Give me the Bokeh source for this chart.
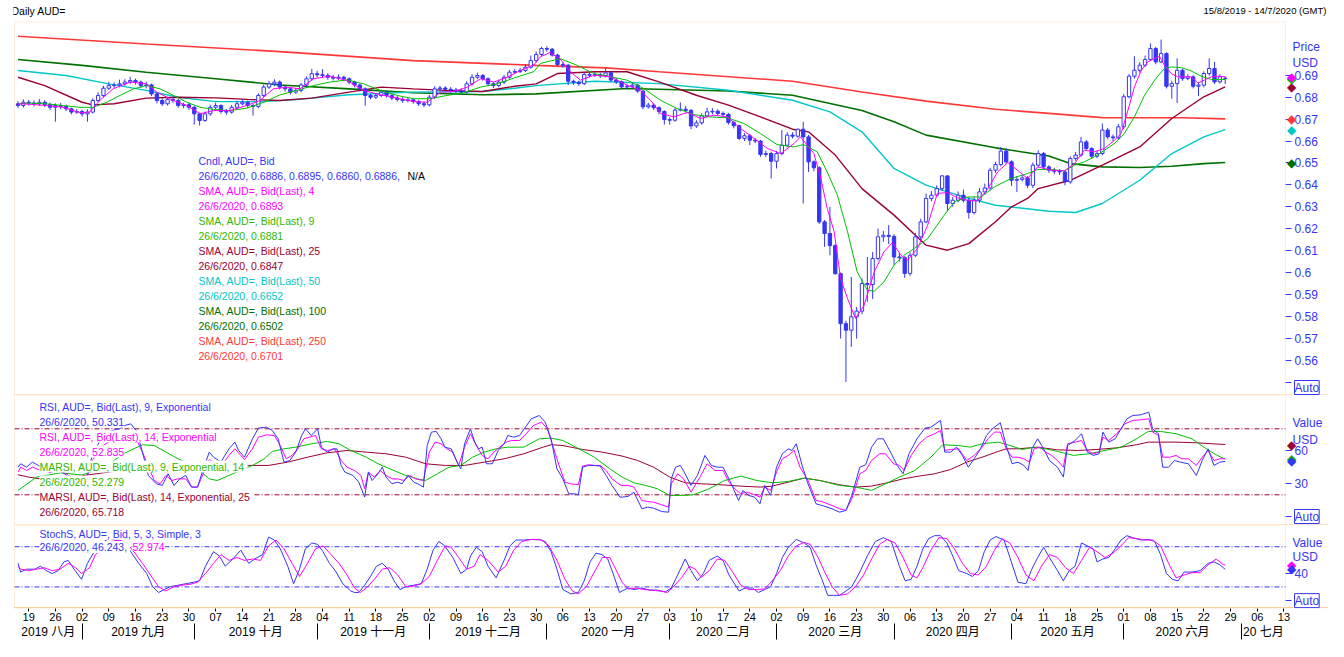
import numpy as np
import pandas as pd
from bokeh.plotting import figure
from bokeh.models import Range1d, LinearAxis, FixedTicker, Label, Span, ColumnDataSource, BoxAnnotation
from bokeh.layouts import column
from bokeh.embed import file_html
from bokeh.resources import INLINE

# ---------------------------------------------------------------- calendar
trading_days = pd.bdate_range("2019-08-15", "2020-07-14")
day_tick_labels = ["19", "26", "02", "09", "16", "23", "30", "07", "14", "21", "28",
                   "04", "11", "18", "25", "02", "09", "16", "23", "30", "06", "13",
                   "20", "27", "03", "10", "17", "24", "02", "09", "16", "23", "30",
                   "06", "13", "20", "27", "04", "11", "18", "25", "01", "08", "15",
                   "22", "29", "06", "13"]
month_labels = ["2019 八月", "2019 九月", "2019 十月", "2019 十一月", "2019 十二月",
                "2020 一月", "2020 二月", "2020 三月", "2020 四月", "2020 五月",
                "2020 六月", "20 七月"]

# ---------------------------------------------------------------- candles (AUD=, bid)
close = [
    0.6762, 0.6777, 0.6773, 0.6770, 0.6777, 0.6767, 0.6754, 0.6762, 0.6758, 0.6747,
    0.6732, 0.6735, 0.6724, 0.6732, 0.6785, 0.6808, 0.6841, 0.6853, 0.6856, 0.6861,
    0.6869, 0.6876, 0.6869, 0.6853, 0.6856, 0.6815, 0.6785, 0.6770, 0.6790, 0.6785,
    0.6762, 0.6766, 0.6754, 0.6724, 0.6694, 0.6724, 0.6754, 0.6762, 0.6735, 0.6732,
    0.6754, 0.6770, 0.6777, 0.6762, 0.6758, 0.6808, 0.6846, 0.6861, 0.6869, 0.6846,
    0.6838, 0.6823, 0.6831, 0.6856, 0.6884, 0.6907, 0.6902, 0.6899, 0.6891, 0.6887,
    0.6891, 0.6884, 0.6869, 0.6856, 0.6838, 0.6808, 0.6800, 0.6808, 0.6823, 0.6808,
    0.6796, 0.6790, 0.6785, 0.6788, 0.6780, 0.6770, 0.6765, 0.6800, 0.6838, 0.6842,
    0.6836, 0.6833, 0.6828, 0.6823, 0.6861, 0.6891, 0.6899, 0.6884, 0.6861, 0.6853,
    0.6869, 0.6891, 0.6914, 0.6917, 0.6922, 0.6937, 0.6967, 0.6995, 0.7022, 0.7019,
    0.6992, 0.6949, 0.6946, 0.6873, 0.6868, 0.6862, 0.6904, 0.6900, 0.6903, 0.6898,
    0.6911, 0.6878, 0.6870, 0.6847, 0.6850, 0.6855, 0.6828, 0.6756, 0.6764, 0.6752,
    0.6735, 0.6698, 0.6695, 0.6741, 0.6745, 0.6740, 0.6669, 0.6683, 0.6715, 0.6733,
    0.6736, 0.6726, 0.6721, 0.6685, 0.6670, 0.6612, 0.6624, 0.6604, 0.6600, 0.6539,
    0.6543, 0.6508, 0.6543, 0.6581, 0.6627, 0.6622, 0.6654, 0.6619, 0.6505, 0.6478,
    0.6231, 0.6178, 0.6123, 0.5995, 0.5767, 0.5737, 0.5798, 0.5824, 0.5950, 0.5945,
    0.6064, 0.6163, 0.6170, 0.6165, 0.6071, 0.6068, 0.5996, 0.6079, 0.6163, 0.6231,
    0.6338, 0.6353, 0.6383, 0.6441, 0.6315, 0.6330, 0.6353, 0.6330, 0.6274, 0.6330,
    0.6368, 0.6386, 0.6467, 0.6493, 0.6554, 0.6505, 0.6421, 0.6425, 0.6432, 0.6398,
    0.6490, 0.6543, 0.6482, 0.6467, 0.6462, 0.6459, 0.6414, 0.6520, 0.6536, 0.6596,
    0.6566, 0.6531, 0.6543, 0.6650, 0.6619, 0.6615, 0.6665, 0.6802, 0.6896, 0.6923,
    0.6946, 0.6972, 0.7022, 0.6961, 0.6999, 0.6850, 0.6862, 0.6923, 0.6885, 0.6893,
    0.6850, 0.6855, 0.6908, 0.6931, 0.6870, 0.6893, 0.6886]

open_ = [
    0.6770,
    0.6762, 0.6777, 0.6773, 0.6770, 0.6777, 0.6767, 0.6754, 0.6762, 0.6758, 0.6747,
    0.6732, 0.6735, 0.6724, 0.6732, 0.6785, 0.6808, 0.6841, 0.6853, 0.6856, 0.6861,
    0.6869, 0.6876, 0.6869, 0.6853, 0.6856, 0.6815, 0.6785, 0.6770, 0.6790, 0.6785,
    0.6762, 0.6766, 0.6754, 0.6724, 0.6694, 0.6724, 0.6754, 0.6762, 0.6735, 0.6732,
    0.6754, 0.6770, 0.6777, 0.6762, 0.6758, 0.6808, 0.6846, 0.6861, 0.6869, 0.6846,
    0.6838, 0.6823, 0.6831, 0.6856, 0.6884, 0.6907, 0.6902, 0.6899, 0.6891, 0.6887,
    0.6891, 0.6884, 0.6869, 0.6856, 0.6838, 0.6808, 0.6800, 0.6808, 0.6823, 0.6808,
    0.6796, 0.6790, 0.6785, 0.6788, 0.6780, 0.6770, 0.6765, 0.6800, 0.6838, 0.6842,
    0.6836, 0.6833, 0.6828, 0.6823, 0.6861, 0.6891, 0.6899, 0.6884, 0.6861, 0.6853,
    0.6869, 0.6891, 0.6914, 0.6917, 0.6922, 0.6937, 0.6967, 0.6995, 0.7022, 0.7019,
    0.6992, 0.6949, 0.6946, 0.6873, 0.6868, 0.6862, 0.6904, 0.6900, 0.6903, 0.6898,
    0.6911, 0.6878, 0.6870, 0.6847, 0.6850, 0.6855, 0.6828, 0.6756, 0.6764, 0.6752,
    0.6735, 0.6698, 0.6695, 0.6741, 0.6745, 0.6740, 0.6669, 0.6683, 0.6715, 0.6733,
    0.6736, 0.6726, 0.6721, 0.6685, 0.6670, 0.6612, 0.6624, 0.6604, 0.6600, 0.6539,
    0.6543, 0.6508, 0.6543, 0.6581, 0.6627, 0.6622, 0.6654, 0.6619, 0.6505, 0.6478,
    0.6231, 0.6178, 0.6123, 0.5995, 0.5767, 0.5737, 0.5798, 0.5824, 0.5950, 0.5945,
    0.6064, 0.6163, 0.6170, 0.6165, 0.6071, 0.6068, 0.5996, 0.6079, 0.6163, 0.6231,
    0.6338, 0.6353, 0.6383, 0.6441, 0.6315, 0.6330, 0.6353, 0.6330, 0.6274, 0.6330,
    0.6368, 0.6386, 0.6467, 0.6493, 0.6554, 0.6505, 0.6421, 0.6425, 0.6432, 0.6398,
    0.6490, 0.6543, 0.6482, 0.6467, 0.6462, 0.6459, 0.6414, 0.6520, 0.6536, 0.6596,
    0.6566, 0.6531, 0.6543, 0.6650, 0.6619, 0.6615, 0.6665, 0.6802, 0.6896, 0.6923,
    0.6946, 0.6972, 0.7022, 0.6961, 0.6999, 0.6850, 0.6862, 0.6923, 0.6885, 0.6893,
    0.6850, 0.6855, 0.6908, 0.6931, 0.6870,
    0.6886]

high = [
    0.6783, 0.6790, 0.6788, 0.6785, 0.6792, 0.6786, 0.6775, 0.6772, 0.6774, 0.6766,
    0.6752, 0.6746, 0.6742, 0.6745, 0.6795, 0.6822, 0.6852, 0.6870, 0.6868, 0.6880,
    0.6882, 0.6893, 0.6885, 0.6876, 0.6871, 0.6862, 0.6822, 0.6795, 0.6802, 0.6800,
    0.6792, 0.6775, 0.6775, 0.6760, 0.6730, 0.6735, 0.6765, 0.6775, 0.6768, 0.6746,
    0.6765, 0.6784, 0.6790, 0.6785, 0.6770, 0.6818, 0.6858, 0.6875, 0.6882, 0.6876,
    0.6855, 0.6845, 0.6842, 0.6866, 0.6895, 0.6929, 0.6920, 0.6928, 0.6910, 0.6902,
    0.6904, 0.6898, 0.6890, 0.6875, 0.6862, 0.6845, 0.6815, 0.6820, 0.6835, 0.6830,
    0.6815, 0.6806, 0.6800, 0.6798, 0.6795, 0.6788, 0.6780, 0.6810, 0.6850, 0.6852,
    0.6850, 0.6846, 0.6842, 0.6840, 0.6872, 0.6905, 0.6912, 0.6906, 0.6890, 0.6870,
    0.6880, 0.6902, 0.6925, 0.6928, 0.6934, 0.6950, 0.6990, 0.7008, 0.7030, 0.7032,
    0.7025, 0.6998, 0.6958, 0.6952, 0.6880, 0.6876, 0.6912, 0.6915, 0.6914, 0.6912,
    0.6934, 0.6916, 0.6888, 0.6876, 0.6862, 0.6866, 0.6860, 0.6832, 0.6775, 0.6772,
    0.6758, 0.6740, 0.6708, 0.6752, 0.6776, 0.6760, 0.6745, 0.6695, 0.6726, 0.6752,
    0.6750, 0.6745, 0.6735, 0.6728, 0.6692, 0.6675, 0.6636, 0.6632, 0.6615, 0.6605,
    0.6556, 0.6552, 0.6555, 0.6650, 0.6640, 0.6640, 0.6657, 0.6688, 0.6628, 0.6512,
    0.6485, 0.6240, 0.6300, 0.6130, 0.6000, 0.5780, 0.5980, 0.5843, 0.5973, 0.6071,
    0.6094, 0.6201, 0.6190, 0.6216, 0.6175, 0.6090, 0.6075, 0.6092, 0.6180, 0.6246,
    0.6361, 0.6372, 0.6398, 0.6444, 0.6444, 0.6345, 0.6370, 0.6378, 0.6342, 0.6345,
    0.6385, 0.6406, 0.6478, 0.6505, 0.6573, 0.6566, 0.6512, 0.6440, 0.6445, 0.6440,
    0.6502, 0.6558, 0.6550, 0.6490, 0.6478, 0.6472, 0.6466, 0.6530, 0.6550, 0.6619,
    0.6605, 0.6572, 0.6555, 0.6680, 0.6660, 0.6630, 0.6678, 0.6815, 0.6905, 0.6987,
    0.6960, 0.6990, 0.7045, 0.7030, 0.7063, 0.7005, 0.6875, 0.6977, 0.6930, 0.6905,
    0.6900, 0.6866, 0.6918, 0.6977, 0.6961, 0.6905, 0.6895]

low = [
    0.6750, 0.6752, 0.6762, 0.6758, 0.6760, 0.6755, 0.6742, 0.6688, 0.6745, 0.6737,
    0.6722, 0.6724, 0.6712, 0.6688, 0.6726, 0.6778, 0.6800, 0.6833, 0.6842, 0.6845,
    0.6852, 0.6860, 0.6858, 0.6842, 0.6840, 0.6805, 0.6772, 0.6760, 0.6762, 0.6774,
    0.6752, 0.6750, 0.6742, 0.6675, 0.6671, 0.6688, 0.6715, 0.6745, 0.6725, 0.6720,
    0.6725, 0.6746, 0.6762, 0.6750, 0.6716, 0.6750, 0.6800, 0.6838, 0.6850, 0.6835,
    0.6826, 0.6812, 0.6815, 0.6822, 0.6848, 0.6875, 0.6890, 0.6888, 0.6880, 0.6876,
    0.6879, 0.6872, 0.6860, 0.6845, 0.6826, 0.6762, 0.6790, 0.6792, 0.6800, 0.6798,
    0.6786, 0.6780, 0.6775, 0.6776, 0.6770, 0.6760, 0.6755, 0.6758, 0.6792, 0.6830,
    0.6826, 0.6822, 0.6818, 0.6812, 0.6815, 0.6852, 0.6882, 0.6875, 0.6850, 0.6842,
    0.6845, 0.6860, 0.6884, 0.6905, 0.6910, 0.6915, 0.6930, 0.6960, 0.6988, 0.7008,
    0.6985, 0.6940, 0.6935, 0.6855, 0.6856, 0.6852, 0.6855, 0.6890, 0.6892, 0.6888,
    0.6890, 0.6870, 0.6860, 0.6838, 0.6838, 0.6842, 0.6820, 0.6745, 0.6748, 0.6742,
    0.6722, 0.6675, 0.6675, 0.6688, 0.6735, 0.6730, 0.6654, 0.6660, 0.6675, 0.6708,
    0.6722, 0.6716, 0.6710, 0.6675, 0.6658, 0.6604, 0.6600, 0.6581, 0.6590, 0.6528,
    0.6528, 0.6429, 0.6475, 0.6535, 0.6572, 0.6612, 0.6615, 0.6315, 0.6459, 0.6462,
    0.6222, 0.6117, 0.6079, 0.5990, 0.5699, 0.5501, 0.5661, 0.5699, 0.5810, 0.5866,
    0.5880, 0.6055, 0.6140, 0.6130, 0.6034, 0.6050, 0.5976, 0.5985, 0.6070, 0.6150,
    0.6225, 0.6325, 0.6345, 0.6372, 0.6280, 0.6300, 0.6320, 0.6320, 0.6246, 0.6265,
    0.6318, 0.6355, 0.6375, 0.6455, 0.6485, 0.6495, 0.6395, 0.6368, 0.6415, 0.6385,
    0.6385, 0.6480, 0.6470, 0.6455, 0.6448, 0.6445, 0.6398, 0.6405, 0.6510, 0.6528,
    0.6555, 0.6520, 0.6522, 0.6535, 0.6608, 0.6600, 0.6605, 0.6655, 0.6795, 0.6885,
    0.6912, 0.6938, 0.6965, 0.6950, 0.6955, 0.6840, 0.6794, 0.6774, 0.6875, 0.6878,
    0.6840, 0.6805, 0.6845, 0.6898, 0.6860, 0.6862, 0.6860]

# ---------------------------------------------------------------- moving averages (day index, value)
sma4 = [(0, 0.6768), (0.9, 0.6770), (5.3, 0.6762), (8.4, 0.6754), (11.6, 0.6729), (13.4, 0.6732),
        (15.3, 0.6785), (17.8, 0.6838), (21.0, 0.6869), (24.1, 0.6861), (26.0, 0.6823), (29.1, 0.6785),
        (31.6, 0.6762), (34.1, 0.6724), (36.6, 0.6739), (39.7, 0.6739), (42.8, 0.6762), (45.3, 0.6785),
        (47.8, 0.6838), (50.3, 0.6846), (52.8, 0.6838), (55.3, 0.6884), (58.4, 0.6896), (61.6, 0.6876),
        (64.7, 0.6831), (67.8, 0.6811), (71.0, 0.6796), (74.1, 0.6780), (76.6, 0.6777), (79.1, 0.6823),
        (81.6, 0.6826), (84.1, 0.6846), (86.6, 0.6884), (89.1, 0.6869), (91.6, 0.6891), (94.1, 0.6922),
        (96.6, 0.6948), (97.8, 0.6984), (99.6, 0.7004), (101.5, 0.6974), (103.4, 0.6916), (105.3, 0.6878),
        (107.8, 0.6900), (110.9, 0.6893), (114.0, 0.6855), (116.5, 0.6832), (118.4, 0.6786), (120.3, 0.6726),
        (122.8, 0.6710), (125.3, 0.6730), (127.8, 0.6703), (130.3, 0.6718), (132.8, 0.6710), (135.3, 0.6657),
        (137.8, 0.6612), (140.3, 0.6566), (142.8, 0.6543), (145.3, 0.6589), (146.5, 0.6619), (149.0, 0.6543),
        (150.3, 0.6429), (151.5, 0.6292), (152.8, 0.6186), (154.0, 0.5973), (155.3, 0.5881), (156.8, 0.5790),
        (158.4, 0.5851), (160.3, 0.6003), (162.1, 0.6094), (163.7, 0.6137), (165.3, 0.6079), (166.5, 0.6056),
        (168.4, 0.6110), (170.3, 0.6216), (172.1, 0.6361), (174.0, 0.6365), (175.9, 0.6341), (177.8, 0.6330),
        (179.6, 0.6326), (181.5, 0.6380), (183.4, 0.6459), (185.3, 0.6502), (187.1, 0.6467), (189.0, 0.6429),
        (190.9, 0.6482), (193.4, 0.6467), (195.9, 0.6464), (197.8, 0.6497), (199.6, 0.6558), (201.5, 0.6551),
        (203.4, 0.6566), (205.3, 0.6604), (206.5, 0.6634), (207.8, 0.6741), (209.0, 0.6847), (210.3, 0.6923),
        (211.5, 0.6961), (212.8, 0.6977), (213.7, 0.6987), (214.6, 0.6946), (215.9, 0.6908), (217.1, 0.6893),
        (218.4, 0.6893), (219.6, 0.6893), (220.9, 0.6865), (222.1, 0.6878), (223.4, 0.6893), (224.6, 0.6896),
        (226, 0.6893)]
sma9 = [(0, 0.6770), (2.2, 0.6773), (5.3, 0.6770), (8.4, 0.6762), (11.6, 0.6754), (14.1, 0.6754),
        (16.6, 0.6777), (19.1, 0.6808), (21.6, 0.6838), (24.1, 0.6853), (26.6, 0.6838), (29.1, 0.6808),
        (31.6, 0.6777), (34.1, 0.6754), (36.6, 0.6744), (39.7, 0.6739), (42.8, 0.6750), (46.0, 0.6777),
        (49.1, 0.6811), (52.2, 0.6831), (55.3, 0.6853), (58.4, 0.6869), (61.6, 0.6879), (64.7, 0.6861),
        (67.8, 0.6831), (71.0, 0.6808), (74.1, 0.6793), (77.2, 0.6793), (80.3, 0.6808), (83.4, 0.6820),
        (86.6, 0.6846), (89.7, 0.6861), (92.8, 0.6887), (96.6, 0.6917), (97.8, 0.6954), (101.5, 0.6976),
        (104.6, 0.6946), (107.8, 0.6908), (110.9, 0.6893), (114.0, 0.6878), (117.1, 0.6840), (120.3, 0.6786),
        (123.4, 0.6748), (126.5, 0.6721), (129.6, 0.6710), (132.8, 0.6706), (135.9, 0.6680), (139.0, 0.6634),
        (142.1, 0.6584), (145.3, 0.6573), (147.1, 0.6584), (149.6, 0.6551), (151.5, 0.6459), (153.4, 0.6353),
        (155.3, 0.6186), (157.1, 0.6003), (159.0, 0.5920), (160.3, 0.5915), (162.1, 0.5957), (164.0, 0.6034),
        (165.9, 0.6079), (167.8, 0.6110), (170.3, 0.6155), (173.4, 0.6262), (175.3, 0.6323), (177.8, 0.6345),
        (180.3, 0.6345), (182.8, 0.6391), (185.9, 0.6429), (189.0, 0.6452), (190.9, 0.6470), (193.4, 0.6470),
        (195.9, 0.6464), (197.8, 0.6490), (199.6, 0.6505), (201.5, 0.6528), (203.4, 0.6558), (205.3, 0.6589),
        (207.1, 0.6634), (209.0, 0.6710), (210.9, 0.6809), (212.8, 0.6878), (214.6, 0.6931), (215.9, 0.6938),
        (217.8, 0.6935), (219.6, 0.6920), (221.5, 0.6896), (223.4, 0.6881), (226, 0.6881)]
sma25 = [(0, 0.6891), (5, 0.6853), (12, 0.6777), (14, 0.6765), (18, 0.6770), (24, 0.6796), (30, 0.6800),
         (37, 0.6797), (43, 0.6790), (49, 0.6785), (55, 0.6796), (62, 0.6823), (68, 0.6846), (74, 0.6838),
         (80, 0.6831), (87, 0.6826), (93, 0.6850), (97, 0.6861), (101, 0.6908), (108, 0.6916), (114, 0.6916),
         (120, 0.6870), (127, 0.6809), (133, 0.6764), (139, 0.6710), (145, 0.6654), (148, 0.6642),
         (153, 0.6536), (158, 0.6383), (164, 0.6262), (170, 0.6125), (174, 0.6102), (178, 0.6132),
         (183, 0.6232), (186, 0.6300), (189, 0.6338), (191, 0.6383), (197, 0.6421), (203, 0.6490),
         (210, 0.6573), (216, 0.6703), (222, 0.6802), (226, 0.6847)]
sma50 = [(0, 0.6922), (9, 0.6899), (17, 0.6861), (24, 0.6831), (30, 0.6800), (37, 0.6780), (46, 0.6780),
         (52, 0.6789), (62, 0.6811), (74, 0.6823), (87, 0.6826), (93, 0.6841), (97, 0.6853), (108, 0.6873),
         (120, 0.6862), (133, 0.6832), (145, 0.6786), (152, 0.6733), (158, 0.6642), (164, 0.6475),
         (170, 0.6399), (177, 0.6345), (183, 0.6307), (193, 0.6280), (198, 0.6274), (203, 0.6315),
         (210, 0.6421), (216, 0.6543), (222, 0.6619), (226, 0.6652)]
sma100 = [(0, 0.6972), (12, 0.6945), (24, 0.6914), (37, 0.6884), (49, 0.6856), (62, 0.6838), (74, 0.6820),
          (87, 0.6811), (97, 0.6815), (114, 0.6840), (133, 0.6828), (145, 0.6809), (158, 0.6739),
          (164, 0.6688), (170, 0.6627), (183, 0.6569), (193, 0.6532), (197, 0.6497), (203, 0.6482),
          (210, 0.6479), (216, 0.6485), (222, 0.6497), (226, 0.6502)]
sma250 = [(0, 0.7078), (24, 0.7043), (49, 0.7008), (74, 0.6967), (97, 0.6945), (110, 0.6934), (120, 0.6916),
          (145, 0.6873), (158, 0.6824), (170, 0.6782), (183, 0.6745), (193, 0.6726), (203, 0.6707),
          (218, 0.6706), (226, 0.6701)]

# ---------------------------------------------------------------- RSI panel (day index, value)
rsi9 = [(0, 45.1), (0.5, 48.2), (1.6, 45.1), (2.7, 49.7), (3.8, 46.7), (5, 44), (6, 40), (7, 43), (8, 42),
        (9, 38), (10, 33), (11, 35), (12, 31), (13, 37), (14, 58), (15, 66), (16, 74), (17, 77), (18, 79),
        (19, 80), (20, 83), (21.1, 84.5), (22.2, 78), (23.3, 58.8), (24.4, 37.6), (25.9, 30.0), (27.0, 28.5),
        (28.1, 39.1), (29.2, 28.5), (30.3, 34.5), (31.4, 37.6), (32.5, 27.0), (33.6, 27.0), (34.4, 39.1),
        (35.8, 58.8), (36.6, 54.2), (38, 50), (39.5, 61.8), (40.6, 67.9), (41.3, 60.3), (42.4, 54.2),
        (43.9, 70.9), (45.0, 80.6), (46.5, 81.5), (47.6, 78.5), (48.7, 70.9), (49.8, 49.7), (50.9, 51.2),
        (52.0, 58.8), (53.1, 73.9), (53.8, 80.0), (54.9, 73.9), (56.1, 80.0), (56.8, 63.3), (57.9, 58.8),
        (59.0, 61.8), (59.7, 61.8), (60.5, 46.7), (61.2, 40.6), (62.7, 37.6), (63.8, 31.5), (64.9, 17.9),
        (65.6, 40.6), (66.3, 33.0), (67.4, 39.1), (68.2, 45.1), (68.9, 36.1), (70.0, 30.0), (71.1, 31.5),
        (71.9, 30.0), (73.0, 37.6), (74.1, 31.5), (75.2, 29.1), (75.9, 27.0), (76.6, 64.8), (77.4, 77.0),
        (78.3, 77.6), (79.2, 70.9), (79.9, 63.3), (81.1, 61.8), (82.2, 49.7), (82.9, 43.6), (83.6, 66.4),
        (84.7, 80.0), (85.5, 67.9), (86.2, 61.8), (86.9, 63.3), (87.7, 48.2), (88.8, 48.2), (89.9, 60.3),
        (91.0, 66.4), (91.7, 73.9), (92.8, 72.4), (93.9, 73.9), (95.0, 81.5), (96.1, 89.1), (97.6, 92.1),
        (98.7, 86.1), (99.8, 70.9), (100.9, 43.6), (102.0, 34.5), (103.1, 20.9), (104.2, 20.9),
        (104.9, 20.0), (105.7, 45.1), (106.8, 46.7), (107.9, 46.7), (109.0, 46.1), (110.1, 37.6),
        (111.2, 28.5), (112.7, 17.9), (113.1, 17.9), (114.2, 18.5), (115.3, 22.4), (116.8, 7.3),
        (117.9, 8.8), (119.0, 7.9), (120.5, 4.8), (121.8, 4.2), (122.3, 34.5), (123.1, 45.1), (124.0, 46.7),
        (124.9, 39.1), (126.0, 28.5), (127.2, 37.6), (128.6, 55.8), (129.8, 46.7), (130.9, 45.1),
        (132.0, 45.1), (133.1, 34.5), (133.8, 27.0), (134.9, 14.8), (135.7, 23.9), (136.8, 19.4),
        (137.9, 17.9), (138.9, 11.8), (139.8, 28.5), (140.9, 19.4), (142.0, 45.1), (143.1, 57.3),
        (144.2, 61.8), (144.9, 60.3), (145.7, 66.4), (146.8, 46.7), (147.9, 30.0), (149.4, 11.8),
        (150.5, 10.3), (152.4, 7.3), (153.8, 4.2), (155.0, 5.8), (156.1, 19.4), (157.6, 45.1), (158.7, 47.3),
        (159.8, 63.3), (160.9, 70.9), (162.0, 70.9), (163.5, 57.3), (164.6, 46.7), (165.7, 39.1),
        (166.8, 57.3), (168.3, 70.9), (169.8, 80.6), (170.9, 81.5), (172.7, 87.6), (173.5, 58.8),
        (174.6, 58.8), (175.7, 63.3), (176.8, 55.8), (177.9, 45.1), (179.0, 52.7), (180.2, 61.8),
        (181.3, 73.9), (182.4, 80.0), (183.9, 85.5), (185.0, 64.8), (186.1, 48.2), (187.2, 49.7),
        (188.3, 46.7), (189.1, 42.1), (189.8, 61.8), (190.9, 70.9), (192.0, 61.8), (193.1, 51.2),
        (194.6, 45.1), (195.7, 36.1), (196.5, 64.8), (197.9, 69.4), (199.1, 75.5), (200.2, 58.8),
        (201.3, 55.8), (202.4, 57.3), (203.1, 77.0), (204.2, 67.9), (205.4, 70.9), (206.5, 80.0),
        (207.6, 89.1), (208.7, 92.1), (210.2, 92.7), (211.7, 95.1), (212.4, 80.0), (213.5, 75.5),
        (214.3, 45.1), (215.4, 45.1), (216.5, 51.2), (217.6, 49.7), (219.1, 48.2), (220.6, 37.6),
        (221.7, 51.2), (222.8, 61.8), (223.9, 46.7), (225.0, 49.7), (226, 50.331)]
rsi14 = [(0, 40.6), (0.5, 45.1), (1.6, 42.1), (2.7, 45.1), (3.8, 43.0), (5, 42), (6, 40), (7, 42), (8, 41),
         (9, 39), (10, 36), (11, 37), (12, 35), (13, 38), (14, 52), (15, 58), (16, 65), (17, 68), (18, 70),
         (19, 71), (20, 73), (21.1, 75), (22.2, 70), (23.3, 58.8), (25.5, 33.0), (26.6, 30.0), (27.7, 37.6),
         (28.8, 33.0), (29.9, 34.5), (31.4, 34.5), (32.5, 27.0), (33.6, 27.0), (34.4, 36), (35.8, 52),
         (36.6, 50), (38, 46), (39.5, 55.8), (40.6, 61.8), (41.7, 55.8), (42.4, 52), (43.9, 61.8),
         (45.0, 72.4), (46.5, 74.5), (48.0, 73.9), (49.1, 64.8), (50.2, 52.7), (51.3, 55.8), (52.4, 61.8),
         (53.5, 70.9), (54.6, 72.4), (55.7, 73.9), (56.8, 61.8), (57.9, 60.3), (59.3, 61.8), (60.5, 51.2),
         (61.6, 45.1), (63.0, 42.1), (64.2, 37.6), (64.9, 25.5), (65.6, 40.6), (66.7, 36.1), (67.8, 42.1),
         (68.9, 37.6), (70.0, 34.5), (71.1, 34.5), (72.2, 33.0), (73.3, 37.6), (74.4, 34.5), (75.9, 33.0),
         (77.0, 58.8), (78.1, 67.9), (79.2, 66.4), (80.3, 61.8), (81.4, 58.8), (82.5, 46.7), (83.6, 63.3),
         (84.7, 75.5), (85.8, 64.8), (86.9, 55.8), (88.0, 52.7), (89.1, 58.8), (90.2, 63.3), (91.4, 67.9),
         (92.4, 69.4), (93.9, 69.4), (95.4, 77.0), (96.5, 83.0), (98.0, 86.1), (99.1, 80.0), (100.2, 63.3),
         (101.3, 46.7), (102.4, 31.5), (103.5, 30.0), (104.9, 29.1), (105.7, 46.1), (106.8, 47.3),
         (107.9, 46.7), (109.0, 46.7), (110.1, 42.1), (111.2, 34.5), (112.7, 29.1), (113.1, 28.5),
         (114.2, 28.5), (115.3, 27.0), (116.8, 14.8), (117.9, 13.9), (119.0, 13.3), (120.5, 10.9),
         (121.8, 8.8), (122.3, 30.0), (123.5, 39.1), (124.6, 34.5), (126.0, 22.4), (127.5, 34.5),
         (129.0, 48.2), (130.5, 42.1), (132.0, 42.1), (133.1, 31.5), (134.2, 25.5), (135.3, 20.9),
         (136.4, 22.4), (137.5, 20.9), (138.9, 17.9), (139.8, 27.0), (140.9, 24.0), (142.0, 40.6),
         (143.1, 52.7), (144.2, 55.8), (145.3, 60.3), (146.4, 45.1), (147.9, 33.0), (149.4, 14.8),
         (150.5, 13.9), (152.4, 10.3), (153.8, 7.3), (155.0, 5.8), (156.1, 16.4), (157.6, 39.1),
         (158.7, 42.1), (159.8, 51.2), (161.3, 57.3), (162.4, 57.3), (163.9, 48.2), (165.0, 46.7),
         (165.9, 42.1), (167.2, 55.8), (168.7, 66.4), (170.1, 72.4), (171.6, 75.5), (172.7, 78.5),
         (173.5, 60.3), (174.6, 61.2), (176.1, 61.8), (177.6, 51.2), (179.0, 55.8), (180.5, 63.3),
         (181.6, 70.9), (182.8, 77.0), (183.9, 77.0), (185.0, 61.8), (186.1, 54.2), (187.2, 54.2),
         (188.3, 52.7), (189.4, 49.7), (190.2, 61.8), (191.3, 63.3), (192.4, 58.8), (193.5, 55.8),
         (194.6, 51.2), (195.7, 45.1), (196.5, 66.4), (197.9, 67.9), (199.1, 69.4), (200.2, 60.3),
         (201.3, 57.3), (202.4, 58.8), (203.1, 72.4), (204.2, 69.4), (205.7, 75.5), (207.2, 84.5),
         (208.7, 87.6), (210.2, 88.2), (211.7, 89.1), (212.4, 77.0), (213.5, 74.0), (214.3, 54.2),
         (215.7, 54.2), (216.8, 55.8), (217.9, 52.7), (219.1, 52.7), (220.6, 46.7), (221.7, 54.2),
         (222.8, 60.3), (223.9, 51.2), (225.0, 52.7), (226, 52.835)]
marsi9 = [(0, 24.0), (1.3, 28.5), (3.5, 36.1), (8, 40), (12, 38), (16, 45), (20, 58), (23.3, 65.5),
          (25.5, 64.8), (27.7, 58.8), (30.0, 52.7), (33.0, 46), (35.8, 34.5), (37.3, 33.0), (38.8, 36.1),
          (40.2, 39.1), (43.9, 46.7), (46.1, 52.7), (47.6, 59.4), (49.8, 61.8), (52.0, 63.3), (55.0, 66.4),
          (57.9, 68.5), (60.1, 66.4), (62.3, 60.3), (65.2, 54.2), (67.4, 48.2), (69.6, 43.6), (72.6, 37.6),
          (74.8, 34.5), (76.3, 33.0), (78.5, 39.1), (80.7, 45.1), (82.9, 46.7), (85.1, 54.2), (87.3, 58.8),
          (89.5, 61.8), (91.7, 63.3), (94.7, 63.3), (97.6, 70.9), (99.8, 71.5), (102.0, 69.4), (105.0, 61.8),
          (107.9, 54.2), (110.8, 43.6), (113.1, 36.1), (115.3, 30.9), (117.5, 28.5), (119.7, 25.5),
          (122.0, 19.4), (124.2, 19.4), (126.4, 20.0), (129.4, 25.5), (132.3, 33.0), (135.3, 37.0),
          (138.3, 33.0), (141.2, 30.9), (144.2, 32.1), (147.2, 35.2), (150.1, 33.0), (153.8, 28.5),
          (156.8, 27.0), (159.8, 24.0), (162.0, 29.1), (165.0, 36.1), (167.9, 42.1), (170.9, 54.2),
          (173.1, 65.5), (176.1, 64.8), (178.3, 63.3), (180.5, 66.4), (183.5, 67.9), (185.7, 64.8),
          (188.0, 61.2), (190.2, 63.3), (192.4, 61.8), (194.6, 59.4), (197.6, 55.8), (200.5, 57.3),
          (203.5, 60.3), (206.5, 63.3), (209.4, 70.9), (211.6, 77.6), (213.9, 77.6), (216.8, 75.5),
          (219.8, 70.9), (222.0, 63.3), (224.3, 56.4), (226, 52.279)]
marsi14 = [(0, 38.2), (2.0, 36.1), (4.2, 34.5), (10, 36), (16, 40), (22, 44), (30, 46), (38, 46), (43.2, 46.7),
           (46.9, 46.7), (50.5, 49.7), (54.2, 54.2), (57.9, 58.2), (61.6, 60.3), (65.2, 58.8), (68.9, 57.3),
           (72.6, 54.2), (76.3, 48.2), (80.0, 46.7), (83.6, 46.7), (87.3, 49.7), (91.0, 52.7), (94.7, 57.3),
           (98.3, 63.3), (99.8, 65.5), (102.0, 64.8), (105.7, 61.2), (109.4, 58.8), (113.1, 55.2),
           (116.0, 51.2), (119.0, 45.1), (122.0, 36.1), (124.9, 30.9), (127.9, 30.0), (131.6, 29.1),
           (135.3, 27.9), (139.0, 27.0), (141.2, 27.9), (144.2, 31.5), (147.2, 35.2), (150.1, 33.0),
           (153.8, 29.1), (156.8, 27.0), (159.8, 27.9), (162.7, 30.9), (165.7, 34.5), (168.7, 37.0),
           (171.6, 39.1), (174.6, 43.0), (177.6, 49.7), (180.5, 54.2), (183.5, 59.4), (185.0, 61.8),
           (187.2, 61.8), (190.9, 63.3), (194.6, 60.9), (198.3, 60.3), (202.0, 61.2), (205.7, 62.7),
           (209.4, 65.5), (211.6, 67.9), (213.9, 67.9), (216.8, 67.9), (220.6, 67.3), (223.5, 66.4),
           (226, 65.718)]

# ---------------------------------------------------------------- Stochastics (day index, value)
stoch_k = [(0, 55.2), (0.5, 42.2), (1.6, 46.5), (3.1, 46.5), (4.2, 50.9), (5.3, 44.3), (6.4, 40.0), (7.5, 44.3),
           (8.6, 57.4), (9.4, 59.6), (10.5, 46.5), (11.9, 31.3), (13.0, 55.2), (14.1, 70.4), (15.5, 85),
           (17, 92), (18.5, 90), (20, 86), (21.1, 72.6), (22.6, 55.2), (24.1, 40.0), (25.2, 20.4), (26.3, 11.7),
           (27.4, 16.1), (28.5, 20.4), (30.0, 22.6), (31.4, 24.8), (32.9, 27.0), (34.0, 29.1), (35.1, 50.9),
           (36.6, 72.6), (37.7, 66.1), (38.8, 50.9), (40.2, 61.7), (41.7, 74.8), (43.2, 55.2), (44.3, 61.7),
           (45.8, 68.3), (46.9, 94.3), (48.0, 90.0), (49.1, 76.9), (50.5, 50.9), (51.6, 24.8), (52.7, 46.5),
           (53.8, 76.9), (55.0, 85.6), (56.1, 83.5), (57.1, 72.6), (58.3, 55.2), (59.4, 44.3), (60.8, 24.8),
           (62.3, 13.9), (63.0, 11.7), (63.8, 11.7), (64.9, 22.6), (66.0, 35.6), (67.1, 50.9), (68.2, 55.2),
           (69.3, 46.5), (70.4, 29.1), (71.5, 16.1), (72.6, 20.4), (74.1, 22.6), (75.5, 24.8), (76.6, 46.5),
           (77.7, 74.8), (78.8, 87.8), (79.9, 81.3), (81.4, 63.9), (82.9, 40.0), (84.0, 46.5), (84.7, 66.1),
           (85.8, 79.1), (86.9, 72.6), (88.0, 50.9), (89.5, 33.5), (91.0, 59.6), (92.1, 81.3), (93.2, 90.0),
           (94.7, 90.0), (96.1, 90.9), (97.6, 90.9), (98.7, 87.8), (99.8, 72.6), (100.9, 46.5), (102.0, 16.1),
           (103.5, 9.6), (104.9, 11.7), (106.0, 29.1), (107.1, 57.4), (108.2, 70.4), (109.3, 68.3),
           (110.4, 61.7), (111.5, 37.8), (112.6, 11.7), (113.1, 13.9), (114.2, 18.3), (115.3, 16.1),
           (116.8, 18.3), (118.3, 15.2), (119.7, 15.2), (121.2, 12.6), (122.3, 18.3), (123.5, 37.8),
           (124.9, 61.7), (126.0, 44.3), (127.2, 29.1), (128.3, 40.0), (129.4, 59.6), (130.9, 66.1),
           (132.0, 59.6), (133.1, 37.8), (135.0, 13.9), (136.1, 18.3), (137.5, 18.3), (138.6, 11.7),
           (139.8, 16.1), (140.9, 20.4), (142.0, 40.0), (143.1, 63.9), (144.2, 79.1), (145.7, 90.9),
           (147.2, 85.6), (148.3, 79.1), (149.4, 53.0), (150.5, 31.3), (151.6, 7.4), (152.7, 7.4),
           (153.8, 7.4), (155.0, 13.9), (156.1, 20.4), (157.6, 42.2), (159.0, 66.1), (160.5, 87.8),
           (162.0, 93.5), (163.5, 87.8), (165.0, 50.9), (166.1, 29.1), (167.2, 31.3), (168.3, 50.9),
           (169.4, 76.9), (170.5, 92.2), (171.6, 96.5), (172.7, 96.5), (173.9, 85.6), (175.0, 66.1),
           (176.1, 44.3), (177.6, 40.0), (178.7, 35.6), (179.8, 44.3), (180.9, 72.6), (182.0, 90.0),
           (183.1, 95.2), (184.6, 90.0), (185.7, 63.9), (187.2, 27.0), (188.7, 24.8), (189.8, 46.5),
           (190.9, 63.9), (192.0, 79.1), (193.1, 63.9), (194.6, 44.3), (195.7, 29.1), (196.8, 44.3),
           (197.9, 50.9), (199.1, 85.6), (200.2, 81.3), (201.3, 76.9), (202.0, 57.4), (203.1, 61.7),
           (204.2, 63.9), (205.4, 76.9), (206.5, 90.0), (207.6, 96.5), (208.7, 93.5), (210.2, 90.0),
           (211.7, 90.9), (212.8, 87.8), (213.9, 68.3), (215.0, 40.0), (216.1, 31.3), (217.2, 29.1),
           (218.3, 42.2), (219.8, 42.2), (221.3, 44.3), (222.8, 55.2), (223.9, 57.4), (225.0, 53.0),
           (226, 46.243)]
stoch_d = [(0, 50.9), (0.5, 46.5), (2.0, 44.3), (3.5, 46.5), (4.9, 48.7), (6.4, 44.3), (7.9, 46.5), (9.4, 55.2),
           (10.8, 48.7), (11.9, 40.0), (13.4, 48.7), (14.5, 68.3), (16, 78), (17.5, 88), (19, 90), (20.5, 84),
           (21.9, 70.4), (23.3, 55.2), (24.8, 37.8), (26.3, 20.4), (27.7, 13.9), (29.2, 20.4), (30.7, 22.6),
           (32.2, 23.9), (33.6, 27.0), (35.1, 40.0), (36.6, 55.2), (38.0, 68.3), (39.5, 59.6), (41.0, 63.9),
           (42.4, 59.6), (43.9, 61.7), (45.4, 59.6), (46.9, 81.3), (48.3, 90.0), (49.8, 76.9), (51.3, 55.2),
           (52.7, 35.6), (54.2, 55.2), (55.7, 76.9), (57.1, 81.3), (58.6, 68.3), (60.1, 55.2), (61.6, 37.8),
           (63.0, 18.3), (64.1, 11.7), (65.2, 18.3), (66.7, 31.3), (68.2, 46.5), (69.6, 48.7), (71.1, 37.8),
           (72.6, 20.4), (74.1, 21.3), (75.5, 24.8), (77.0, 35.6), (78.5, 59.6), (80.0, 81.3), (81.1, 79.1),
           (82.5, 63.9), (84.0, 46.5), (85.4, 50.9), (86.5, 68.3), (88.0, 59.6), (89.9, 42.2), (91.3, 50.9),
           (92.8, 74.8), (94.3, 87.8), (96.1, 90.9), (98.0, 90.0), (99.4, 81.3), (100.9, 59.6), (102.4, 31.3),
           (103.8, 13.9), (104.9, 9.6), (106.4, 20.4), (107.9, 42.2), (109.4, 63.9), (110.8, 63.9),
           (112.3, 40.0), (113.1, 27.0), (114.2, 17.0), (115.7, 18.3), (117.1, 16.1), (118.6, 15.2),
           (120.1, 13.9), (121.6, 11.7), (122.7, 20.4), (124.2, 33.5), (125.7, 50.9), (126.8, 46.5),
           (127.9, 34.3), (129.4, 44.3), (130.9, 61.7), (132.3, 59.6), (133.8, 42.2), (135.3, 22.6),
           (136.8, 16.1), (138.3, 16.1), (139.8, 17.0), (141.2, 29.1), (142.7, 44.3), (144.2, 66.1),
           (145.7, 81.3), (147.2, 86.5), (148.3, 83.5), (149.8, 63.9), (150.9, 44.3), (152.4, 20.4),
           (153.8, 7.4), (155.3, 9.6), (156.8, 20.4), (158.3, 37.8), (159.8, 61.7), (161.3, 83.5),
           (162.7, 90.9), (164.2, 85.6), (165.7, 63.9), (167.2, 37.8), (168.3, 33.5), (169.4, 48.7),
           (170.9, 74.8), (172.4, 93.5), (173.9, 92.2), (175.3, 76.9), (176.8, 55.2), (178.3, 40.0),
           (179.8, 37.8), (181.3, 50.9), (182.8, 74.8), (184.2, 91.7), (185.7, 85.6), (187.2, 63.9),
           (188.7, 37.8), (190.2, 29.1), (191.6, 50.9), (193.1, 68.3), (194.6, 63.9), (196.1, 48.7),
           (197.6, 40.0), (199.1, 59.6), (200.6, 79.1), (202.0, 72.6), (203.5, 63.9), (205.0, 70.4),
           (206.5, 81.3), (207.9, 93.5), (209.4, 92.2), (210.9, 90.0), (212.4, 90.0), (213.9, 81.3),
           (215.4, 55.2), (216.8, 33.5), (218.3, 37.8), (219.8, 41.3), (221.3, 41.3), (222.8, 53.0),
           (224.3, 61.7), (225.7, 53.0), (226, 52.974)]

# axis tick values / labels
price_tick_values = [0.55, 0.56, 0.57, 0.58, 0.59, 0.60, 0.61, 0.62, 0.63, 0.64, 0.65, 0.66, 0.67, 0.68, 0.69]
price_tick_labels = ["", "0.56", "0.57", "0.58", "0.59", "0.6", "0.61", "0.62", "0.63", "0.64", "0.65",
                     "0.66", "0.67", "0.68", "0.69"]
rsi_tick_values = [0, 30, 60]
rsi_tick_labels = ["", "30", "60"]
stoch_tick_values = [0, 40]
stoch_tick_labels = ["", "40"]
rsi_levels = [80, 20]
stoch_levels = [80, 20]

# ---------------------------------------------------------------- style
FONT = "Liberation Sans"
CJK = "Liberation Sans, Noto Sans CJK SC"
BLUE = "#3535F5"
MAGENTA = "#FF00FF"
GREEN = "#00C000"
GREEN_T = "#2EB800"
DRED = "#990033"
CYAN = "#00C8C8"
DGREEN = "#007000"
RED = "#FF3838"
ORANGE = "#FFC891"

W = 1328

# reference geometry (pixels) -> data coordinates
def ix(px):
    return (px - 17.5) / 5.3416

def py_price(py):
    return 0.68 + (96.7 - py) / 2192.0

def py_rsi(py):
    return 50 - (py - 461.3) / 1.1

def py_stoch(py):
    return 50 - (py - 572.3) / 0.7667

x_range = Range1d(ix(13), ix(1328))
AXIS_X = ix(1285)


def make_fig(height, yr, bottom=0, xaxis=False):
    p = figure(width=W, height=height, x_range=x_range, y_range=yr,
               output_backend="svg", toolbar_location=None,
               x_axis_location="below" if xaxis else None, y_axis_location="right",
               min_border_left=13, min_border_right=0, min_border_top=0, min_border_bottom=bottom)
    p.grid.visible = False
    p.outline_line_color = None
    p.background_fill_color = "white"
    p.border_fill_color = "white"
    ax = p.yaxis[0]
    ax.fixed_location = AXIS_X
    ax.axis_line_color = None
    ax.major_tick_in = 0
    ax.major_tick_out = 6
    ax.major_tick_line_color = BLUE
    ax.minor_tick_line_color = None
    ax.major_label_text_color = BLUE
    ax.major_label_text_font = FONT
    ax.major_label_text_font_size = "12px"
    ax.major_label_standoff = 3
    return p


def add_text(p, x, y, text, color, size="10.5px", bg=True, align="left", font=FONT, border=None):
    kw = dict(x=x, y=y, text=text, text_color=color, text_font=font, text_font_size=size,
              text_align=align, text_baseline="middle")
    if bg:
        kw.update(background_fill_color="white", background_fill_alpha=1.0)
    if border:
        kw.update(border_line_color=border, border_line_width=1)
    p.add_layout(Label(**kw))


def frame_box(p, top=None, bottom=None):
    p.add_layout(BoxAnnotation(left=ix(14), right=AXIS_X, top=top, bottom=bottom,
                               fill_alpha=0, fill_color=None, line_color=ORANGE, line_width=1))


def xy(pairs):
    xs, ys = zip(*pairs)
    return list(xs), list(ys)

# ---------------------------------------------------------------- price panel
p1 = make_fig(395, Range1d(py_price(395), py_price(0)))
p1.yaxis[0].ticker = FixedTicker(ticks=price_tick_values)
p1.yaxis[0].major_label_overrides = dict(zip(price_tick_values, price_tick_labels))

for series, col, w in [(sma250, RED, 1.6), (sma100, DGREEN, 1.6), (sma50, CYAN, 1.4), (sma25, DRED, 1.4)]:
    xs, ys = xy(series)
    p1.line(xs, ys, line_color=col, line_width=w)

o = np.array(open_)
c = np.array(close)
src = ColumnDataSource(dict(
    x=np.arange(len(close)), high=high, low=low,
    top=np.maximum(o, c), bottom=np.minimum(o, c),
    fill=np.where(c >= o, "white", BLUE)))
p1.segment(x0="x", y0="low", x1="x", y1="high", source=src, line_color=BLUE, line_width=1)
p1.vbar(x="x", width=0.62, top="top", bottom="bottom", fill_color="fill", line_color=BLUE,
        line_width=1, source=src)

for series, col in [(sma9, GREEN), (sma4, MAGENTA)]:
    xs, ys = xy(series)
    p1.line(xs, ys, line_color=col, line_width=1)

frame_box(p1, top=py_price(21.5), bottom=None)
p1.add_layout(Span(location=py_price(394.5), dimension="width", line_color=ORANGE, line_width=1))

last = "26/6/2020"
legend_price = [
    ("Cndl, AUD=, Bid", BLUE),
    (f"{last}, {open_[-1]:.4f}, {high[-1]:.4f}, {low[-1]:.4f}, {close[-1]:.4f},", BLUE),
    ("SMA, AUD=, Bid(Last),  4", MAGENTA), (f"{last}, {sma4[-1][1]:.4f}", MAGENTA),
    ("SMA, AUD=, Bid(Last),  9", GREEN_T), (f"{last}, {sma9[-1][1]:.4f}", GREEN_T),
    ("SMA, AUD=, Bid(Last),  25", DRED), (f"{last}, {sma25[-1][1]:.4f}", DRED),
    ("SMA, AUD=, Bid(Last),  50", CYAN), (f"{last}, {sma50[-1][1]:.4f}", CYAN),
    ("SMA, AUD=, Bid(Last),  100", DGREEN), (f"{last}, {sma100[-1][1]:.4f}", DGREEN),
    ("SMA, AUD=, Bid(Last),  250", RED), (f"{last}, {sma250[-1][1]:.4f}", RED),
]
for k, (t, col) in enumerate(legend_price):
    add_text(p1, ix(198), py_price(160 + 15 * k), t, col)
add_text(p1, ix(407), py_price(175), "N/A", "black")

add_text(p1, ix(11), py_price(10), "Daily AUD=", "black", size="10.5px", bg=False)
add_text(p1, ix(1326), py_price(10), "15/8/2019 - 14/7/2020 (GMT)", "black", size="9.5px",
         bg=False, align="right")
add_text(p1, ix(1292), py_price(46), "Price", BLUE, size="12px", bg=False)
add_text(p1, ix(1292), py_price(62), "USD", BLUE, size="12px", bg=False)
add_text(p1, ix(1294), py_price(387), "Auto", BLUE, size="12px", border=BLUE)
for yv, col in [(close[-1], BLUE), (sma100[-1][1], DGREEN), (sma50[-1][1], CYAN), (sma250[-1][1], RED),
                (sma25[-1][1], DRED), (sma9[-1][1], GREEN), (sma4[-1][1], MAGENTA)]:
    add_text(p1, ix(1291), yv, "◆", col, size="12px", bg=False, align="center", font="DejaVu Sans")

# ---------------------------------------------------------------- RSI panel
p2 = make_fig(130, Range1d(py_rsi(525), py_rsi(395)))
p2.yaxis[0].ticker = FixedTicker(ticks=rsi_tick_values)
p2.yaxis[0].major_label_overrides = dict(zip(rsi_tick_values, rsi_tick_labels))
for lv in rsi_levels:
    p2.segment(x0=[ix(14)], y0=[lv], x1=[AXIS_X], y1=[lv], line_color=DRED, line_width=1,
               line_dash="5 2 1 2")
for series, col in [(marsi14, DRED), (marsi9, GREEN), (rsi14, MAGENTA), (rsi9, BLUE)]:
    xs, ys = xy(series)
    p2.line(xs, ys, line_color=col, line_width=1)
frame_box(p2)
p2.add_layout(Span(location=py_rsi(524.5), dimension="width", line_color=ORANGE, line_width=1))
legend_rsi = [
    ("RSI, AUD=, Bid(Last),  9, Exponential", BLUE), (f"{last}, {rsi9[-1][1]:.3f}", BLUE),
    ("RSI, AUD=, Bid(Last),  14, Exponential", MAGENTA), (f"{last}, {rsi14[-1][1]:.3f}", MAGENTA),
    ("MARSI, AUD=, Bid(Last),  9, Exponential, 14", GREEN_T), (f"{last}, {marsi9[-1][1]:.3f}", GREEN_T),
    ("MARSI, AUD=, Bid(Last),  14, Exponential, 25", DRED), (f"{last}, {marsi14[-1][1]:.3f}", DRED),
]
for k, (t, col) in enumerate(legend_rsi):
    add_text(p2, ix(39), py_rsi(406 + 15 * k), t, col)
add_text(p2, ix(1292), py_rsi(422), "Value", BLUE, size="12px", bg=False)
add_text(p2, ix(1292), py_rsi(439), "USD", BLUE, size="12px", bg=False)
add_text(p2, ix(1294), py_rsi(516), "Auto", BLUE, size="12px", border=BLUE)
for yv, col in [(rsi14[-1][1], MAGENTA), (marsi14[-1][1], DRED), (marsi9[-1][1], GREEN), (rsi9[-1][1], BLUE)]:
    add_text(p2, ix(1291), yv, "◆", col, size="12px", bg=False, align="center", font="DejaVu Sans")

# ---------------------------------------------------------------- Stochastic panel + time axis
p3 = make_fig(116, Range1d(py_stoch(620), py_stoch(525)), bottom=31, xaxis=True)
p3.yaxis[0].ticker = FixedTicker(ticks=stoch_tick_values)
p3.yaxis[0].major_label_overrides = dict(zip(stoch_tick_values, stoch_tick_labels))
for lv in stoch_levels:
    p3.segment(x0=[ix(14)], y0=[lv], x1=[AXIS_X], y1=[lv], line_color=BLUE, line_width=1,
               line_dash="5 2 1 2")
for series, col in [(stoch_k, BLUE), (stoch_d, MAGENTA)]:
    xs, ys = xy(series)
    p3.line(xs, ys, line_color=col, line_width=1)
frame_box(p3)
p3.add_layout(Span(location=py_stoch(619), dimension="width", line_color=ORANGE, line_width=1))
add_text(p3, ix(39), py_stoch(534.5), "StochS, AUD=, Bid,  5, 3, Simple, 3", BLUE)
add_text(p3, ix(39), py_stoch(549.5), f"{last}, {stoch_k[-1][1]:.3f}, ", BLUE)
add_text(p3, ix(132), py_stoch(549.5), f"{stoch_d[-1][1]:.3f}", MAGENTA)
add_text(p3, ix(1292), py_stoch(545), "Value", BLUE, size="12px", bg=False)
add_text(p3, ix(1292), py_stoch(561), "USD", BLUE, size="12px", bg=False)
add_text(p3, ix(1294), py_stoch(611), "Auto", BLUE, size="12px", border=BLUE)
for yv, col in [(stoch_d[-1][1], MAGENTA), (stoch_k[-1][1], BLUE)]:
    add_text(p3, ix(1291), yv, "◆", col, size="12px", bg=False, align="center", font="DejaVu Sans")

monday_pos = [i for i, d in enumerate(trading_days) if d.weekday() == 0]
month_start = [i for i in range(1, len(trading_days)) if trading_days[i].month != trading_days[i - 1].month]
edges = [ix(14)] + month_start + [AXIS_X]
month_centers = [float((a + b) / 2.0) for a, b in zip(edges[:-1], edges[1:])]

xa = p3.xaxis[0]
xa.ticker = FixedTicker(ticks=monday_pos)
xa.major_label_overrides = dict(zip(monday_pos, day_tick_labels))
xa.axis_line_color = None
xa.major_tick_in = 0
xa.major_tick_out = 3
xa.major_tick_line_color = "black"
xa.minor_tick_line_color = None
xa.major_label_standoff = 1
xa.major_label_text_font = FONT
xa.major_label_text_font_size = "11px"
xa.major_label_text_color = "black"

ma = LinearAxis(ticker=FixedTicker(ticks=month_centers, minor_ticks=month_start),
                major_label_overrides=dict(zip(month_centers, month_labels)))
ma.axis_line_color = None
ma.major_tick_line_color = None
ma.major_tick_in = 0
ma.major_tick_out = 0
ma.minor_tick_in = 0
ma.minor_tick_out = 16
ma.minor_tick_line_color = "black"
ma.major_label_standoff = -15
ma.major_label_text_font = CJK
ma.major_label_text_font_size = "12px"
ma.major_label_text_color = "black"
p3.add_layout(ma, "below")

layout = column(p1, p2, p3, spacing=0)
open("out.html", "w").write(file_html(layout, INLINE))
